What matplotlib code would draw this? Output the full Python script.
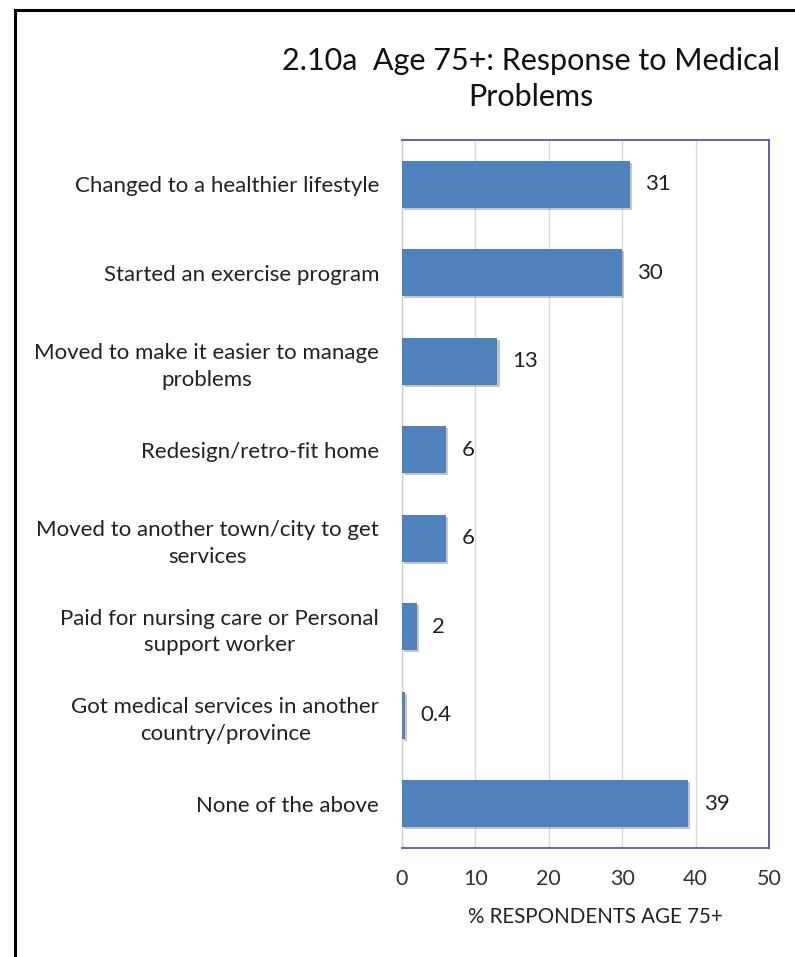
import matplotlib
matplotlib.use("Agg")
import matplotlib.pyplot as plt
import matplotlib.patheffects as pe
from matplotlib.lines import Line2D

categories = [
    "Changed to a healthier lifestyle",
    "Started an exercise program",
    "Moved to make it easier to manage\nproblems",
    "Redesign/retro-fit home",
    "Moved to another town/city to get\nservices",
    "Paid for nursing care or Personal\nsupport worker",
    "Got medical services in another\ncountry/province",
    "None of the above",
]
values = [31, 30, 13, 6, 6, 2, 0.4, 39]
value_labels = ["31", "30", "13", "6", "6", "2", "0.4", "39"]
xticks = [0, 10, 20, 30, 40, 50]

FONT = "Lato"
plt.rcParams["font.family"] = [FONT, "DejaVu Sans"]

W, H = 795, 957
fig = plt.figure(figsize=(W / 100, H / 100), dpi=100)

# outer frame (left and top edges visible)
fig.add_artist(Line2D([15 / W, 15 / W], [0, 1 - 10 / H], transform=fig.transFigure,
                      color="black", lw=2.2))
fig.add_artist(Line2D([15 / W, 1], [1 - 10 / H, 1 - 10 / H], transform=fig.transFigure,
                      color="black", lw=2.2))

ax = fig.add_axes([402 / W, 1 - 848 / H, (769 - 402) / W, (848 - 140) / H])

ypos = list(range(len(categories)))
bars = ax.barh(ypos, values, height=0.53, color="#4f81bd", zorder=3,
               path_effects=[pe.SimplePatchShadow(offset=(1.5, -1.5), shadow_rgbFace="#808080", alpha=0.45),
                             pe.Normal()])
ax.set_ylim(len(categories) - 0.5, -0.5)
ax.set_xlim(0, 50)
ax.set_xticks(xticks)
ax.set_xticklabels([str(t) for t in xticks], fontsize=15.5, color="#333333")
ax.set_yticks(ypos)
ax.set_yticklabels(categories, fontsize=16, color="#222222", multialignment="center",
                   linespacing=1.4)
ax.tick_params(axis="both", length=0)
ax.tick_params(axis="y", pad=16.5)
ax.tick_params(axis="x", pad=15)
ax.grid(axis="x", color="#d9d9d9", lw=1, zorder=0)

for sp in ["top", "right", "bottom"]:
    ax.spines[sp].set_color("#5555bb")
    ax.spines[sp].set_linewidth(1.3)
ax.spines["left"].set_color("#d0d0d0")
ax.spines["left"].set_linewidth(1)

for b, v, lab in zip(bars, values, value_labels):
    ax.annotate(lab, (v, b.get_y() + b.get_height() / 2), xytext=(11, 0),
                textcoords="offset points", va="center", ha="left",
                fontsize=16, color="#222222")

ax.set_xlabel("% RESPONDENTS AGE 75+", fontsize=14.8, color="#222222")
ax.xaxis.set_label_coords(0.527, -0.083)

fig.text(531 / W, 1 - 79 / H, "2.10a  Age 75+: Response to Medical\nProblems",
         ha="center", va="center", fontsize=22, color="#111111",
         multialignment="center", linespacing=1.33)

fig.savefig("out.png", dpi=100)
